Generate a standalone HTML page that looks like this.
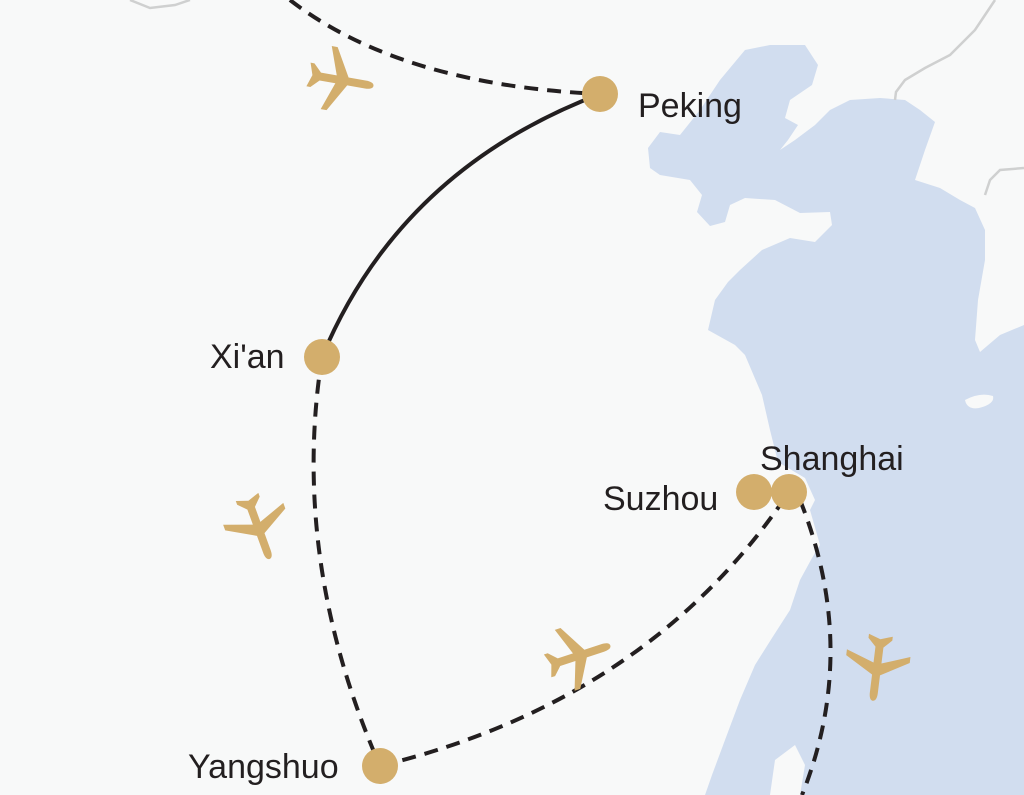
<!DOCTYPE html>
<html><head><meta charset="utf-8"><style>
html,body{margin:0;padding:0;background:#f8f9f9;}
svg{display:block}
text{font-family:"Liberation Sans","DejaVu Sans",sans-serif;font-size:34px;fill:#231f20}
</style></head><body>
<svg width="1024" height="795" viewBox="0 0 1024 795" xmlns="http://www.w3.org/2000/svg">
<defs>
<path id="pl" d="M0,-34 C3,-34 4,-30 4,-26 L4,-8 L32,8 L32,14 L4,4 L4,20 L12,28 L12,32 L0,28 L-12,32 L-12,28 L-4,20 L-4,4 L-32,14 L-32,8 L-4,-8 L-4,-26 C-4,-30 -3,-34 0,-34 Z" fill="#d3ae6c"/>
</defs>
<rect width="1024" height="795" fill="#f8f9f9"/>
<path fill="#d1ddef" d="M648,148 L660,132 L680,135 L700,110 L720,80 L745,50 L770,45 L805,45 L818,65 L812,85 L790,100 L785,118 L798,125 L788,140 L780,150 L795,140 L815,125 L830,110 L850,100 L880,98 L905,100 L920,110 L935,122 L925,150 L915,180 L940,188 L960,200 L975,208 L985,230 L985,260 L978,300 L975,340 L980,352 L1000,335 L1024,325 L1024,795 L800,795 L805,765 L795,745 L775,760 L770,795 L705,795 L712,775 L725,740 L740,700 L755,665 L772,638 L790,610 L800,580 L812,558 L820,545 L810,510 L815,500 L805,478 L778,462 L770,430 L762,395 L745,355 L735,345 L708,330 L715,300 L728,282 L740,270 L762,250 L790,238 L815,242 L832,225 L830,212 L800,213 L775,200 L745,198 L730,205 L725,222 L710,226 L697,212 L702,195 L690,180 L660,175 L650,168 Z"/>
<path fill="#f8f9f9" d="M965,400 q15,-8 28,-4 q2,8 -14,12 q-12,2 -14,-8z"/>
<path fill="none" stroke="#cfd0d0" stroke-width="2.5" d="M995,0 L985,15 L975,30 L965,40 L950,55 L925,68 L905,80 L896,92 L895,100"/>
<path fill="none" stroke="#cfd0d0" stroke-width="2.5" d="M1024,168 L1000,170 L990,180 L985,195"/>
<path fill="none" stroke="#cfd0d0" stroke-width="2.5" d="M130,0 L150,8 L175,5 L190,0"/>
<g fill="none" stroke="#231f20" stroke-width="4">
<path d="M290,0 Q400,85 600,94" stroke-dasharray="14,9"/>
<path d="M600,94 Q400,170 322,357"/>
<path d="M322,357 Q290,560 380,766" stroke-dasharray="14,9"/>
<path d="M380,766 Q650,700 789,492" stroke-dasharray="14,9"/>
<path d="M800,500 Q860,650 802,795" stroke-dasharray="14,9"/>
</g>
<g fill="#d3ae6c">
<circle cx="600" cy="94" r="18"/>
<circle cx="322" cy="357" r="18"/>
<circle cx="754" cy="492" r="18"/>
<circle cx="789" cy="492" r="18"/>
<circle cx="380" cy="766" r="18"/>
</g>
<use href="#pl" transform="translate(340,80) rotate(100)"/>
<use href="#pl" transform="translate(258,527) rotate(160)"/>
<use href="#pl" transform="translate(578,656) rotate(72)"/>
<use href="#pl" transform="translate(877,667) rotate(187)"/>
<text x="638" y="117">Peking</text>
<text x="210" y="368">Xi'an</text>
<text x="760" y="470">Shanghai</text>
<text x="603" y="510">Suzhou</text>
<text x="188" y="778">Yangshuo</text>
</svg>
</body></html>
